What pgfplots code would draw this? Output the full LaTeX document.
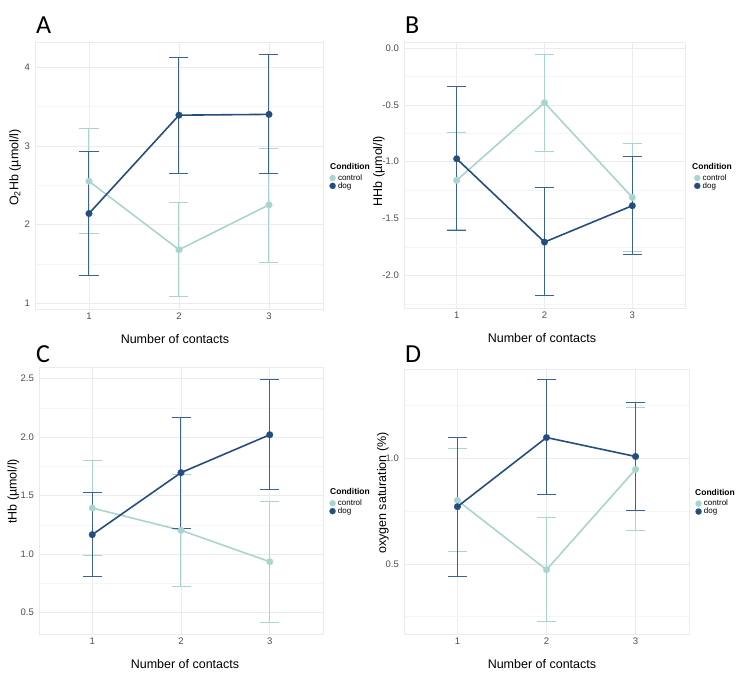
\documentclass[border=0pt]{standalone}
\usepackage{pgfplots}
\pgfplotsset{compat=1.18}
\usepackage{pgfplotstable}
\usepackage{fontspec}
\setmainfont{Liberation Sans}
\newfontfamily\letterfont{Carlito}
\definecolor{ctrl}{HTML}{A8D5CF}
\definecolor{dogc}{HTML}{244E7E}
\definecolor{dogbar}{HTML}{3A6292}
\definecolor{gridmaj}{HTML}{EBEBEB}
\definecolor{gridmin}{HTML}{F5F5F5}
\definecolor{ticklab}{HTML}{4D4D4D}

\pgfplotstableread{
x c clo chi d dlo dhi
1 2.55 1.88 3.22 2.14 1.35 2.93
2 1.68 1.08 2.285 3.39 2.65 4.12
3 2.25 1.52 2.97 3.40 2.65 4.16
}\dataA
\pgfplotstableread{
x c clo chi d dlo dhi
1 -1.164 -1.592 -0.739 -0.974 -1.607 -0.34
2 -0.481 -0.906 -0.053 -1.707 -2.18 -1.226
3 -1.314 -1.789 -0.842 -1.387 -1.815 -0.956
}\dataB
\pgfplotstableread{
x c clo chi d dlo dhi
1 1.395 0.987 1.802 1.167 0.808 1.526
2 1.204 0.725 1.68 1.697 1.218 2.167
3 0.936 0.42 1.449 2.021 1.554 2.49
}\dataC
\pgfplotstableread{
x c clo chi d dlo dhi
1 0.801 0.557 1.047 0.771 0.442 1.099
2 0.472 0.224 0.719 1.099 0.828 1.372
3 0.948 0.656 1.241 1.009 0.754 1.265
}\dataD

\pgfplotsset{
 panel/.style={
  scale only axis, xmin=0.4, xmax=3.6, xtick={1,2,3},
  axis line style={draw=gridmaj, line width=0.6pt},
  xmajorgrids, ymajorgrids, yminorgrids,
  major grid style={draw=gridmaj, line width=0.6pt},
  minor grid style={draw=gridmin, line width=0.5pt},
  major tick length=0pt, minor tick length=0pt,
  tick style={draw=none},
  ticklabel style={font=\fontsize{9.5}{9.5}\selectfont, text=ticklab},
  xticklabel style={inner sep=0pt, yshift=-4pt, anchor=north},
  yticklabel style={inner sep=0pt, xshift=-5pt, anchor=east},
  label style={font=\fontsize{12.5}{12.5}\selectfont},
  /pgf/number format/assume math mode=true,
  legend style={draw=none, fill=none, font=\fontsize{8}{8}\selectfont, anchor=west, row sep=0pt, column sep=2pt, inner sep=0pt, nodes={inner sep=0.3pt}},
  legend cell align=left,
  legend image code/.code={\draw[#1, only marks, mark size=3.1pt] plot coordinates {(0.11cm,0cm)};},
 },
 ebar/.style={draw=none, mark=none, forget plot, error bars/.cd, y dir=both, y explicit, error bar style={draw=#1, line width=1pt, solid}, error mark options={rotate=90, draw=#1, line width=1pt, mark size=9.5pt}},
 mline/.style={draw=#1, line width=1.6pt, mark=*, mark size=3.4pt, mark options={draw=#1, fill=#1, line width=0.1pt, solid}},
}

\begin{document}
\begin{tikzpicture}
\path (0pt,0pt) rectangle (748pt,-681pt);

% Panel A
\begin{axis}[panel, at={(35pt,-42pt)}, anchor=north west, width=288pt, height=267pt,
  ymin=0.926, ymax=4.32, ytick={1,2,3,4}, minor ytick={1.5,2.5,3.5},
  ylabel={O\textsubscript{2}Hb (µmol/l)}, xlabel={Number of contacts},
  ylabel style={at={(axis description cs:-0.069,0.53)}, anchor=center},
  xlabel style={at={(axis description cs:0.486,-0.112)}, anchor=center},
  legend style={at={(axis description cs:1.022,0.476)}}]
\addplot[ebar=ctrl] table[x=x, y=c, y error plus expr=\thisrow{chi}-\thisrow{c}, y error minus expr=\thisrow{c}-\thisrow{clo}]{\dataA};
\addplot[mline=ctrl] table[x=x, y=c]{\dataA};
\addlegendentry{control}
\addplot[ebar=dogbar] table[x=x, y=d, y error plus expr=\thisrow{dhi}-\thisrow{d}, y error minus expr=\thisrow{d}-\thisrow{dlo}]{\dataA};
\addplot[mline=dogc] table[x=x, y=d]{\dataA};
\addlegendentry{dog}
\end{axis}

% Panel B
\begin{axis}[panel, at={(404pt,-42pt)}, anchor=north west, width=281pt, height=266pt,
  ymin=-2.287, ymax=0.053, ytick={-2,-1.5,-1,-0.5,0}, yticklabels={-2.0,-1.5,-1.0,-0.5,0.0},
  minor ytick={-2.25,-1.75,-1.25,-0.75,-0.25},
  ylabel={HHb (µmol/l)}, xlabel={Number of contacts},
  ylabel style={at={(axis description cs:-0.089,0.515)}, anchor=center},
  xlabel style={at={(axis description cs:0.491,-0.113)}, anchor=center},
  legend style={at={(axis description cs:1.032,0.474)}}]
\addplot[ebar=ctrl] table[x=x, y=c, y error plus expr=\thisrow{chi}-\thisrow{c}, y error minus expr=\thisrow{c}-\thisrow{clo}]{\dataB};
\addplot[mline=ctrl] table[x=x, y=c]{\dataB};
\addlegendentry{control}
\addplot[ebar=dogbar] table[x=x, y=d, y error plus expr=\thisrow{dhi}-\thisrow{d}, y error minus expr=\thisrow{d}-\thisrow{dlo}]{\dataB};
\addplot[mline=dogc] table[x=x, y=d]{\dataB};
\addlegendentry{dog}
\end{axis}

% Panel C
\begin{axis}[panel, at={(39pt,-367pt)}, anchor=north west, width=284pt, height=267pt,
  ymin=0.318, ymax=2.60, ytick={0.5,1,1.5,2,2.5}, yticklabels={0.5,1.0,1.5,2.0,2.5},
  minor ytick={0.75,1.25,1.75,2.25},
  ylabel={tHb (µmol/l)}, xlabel={Number of contacts},
  ylabel style={at={(axis description cs:-0.09,0.534)}, anchor=center},
  xlabel style={at={(axis description cs:0.514,-0.112)}, anchor=center},
  legend style={at={(axis description cs:1.022,0.475)}}]
\addplot[ebar=ctrl] table[x=x, y=c, y error plus expr=\thisrow{chi}-\thisrow{c}, y error minus expr=\thisrow{c}-\thisrow{clo}]{\dataC};
\addplot[mline=ctrl] table[x=x, y=c]{\dataC};
\addlegendentry{control}
\addplot[ebar=dogbar] table[x=x, y=d, y error plus expr=\thisrow{dhi}-\thisrow{d}, y error minus expr=\thisrow{d}-\thisrow{dlo}]{\dataC};
\addplot[mline=dogc] table[x=x, y=d]{\dataC};
\addlegendentry{dog}
\end{axis}

% Panel D
\begin{axis}[panel, at={(404pt,-369pt)}, anchor=north west, width=285pt, height=265pt,
  ymin=0.167, ymax=1.424, ytick={0.5,1}, yticklabels={0.5,1.0},
  minor ytick={0.25,0.75,1.25},
  ylabel={oxygen saturation (\%)}, xlabel={Number of contacts},
  ylabel style={at={(axis description cs:-0.074,0.532)}, anchor=center},
  xlabel style={at={(axis description cs:0.484,-0.113)}, anchor=center},
  legend style={at={(axis description cs:1.022,0.477)}}]
\addplot[ebar=ctrl] table[x=x, y=c, y error plus expr=\thisrow{chi}-\thisrow{c}, y error minus expr=\thisrow{c}-\thisrow{clo}]{\dataD};
\addplot[mline=ctrl] table[x=x, y=c]{\dataD};
\addlegendentry{control}
\addplot[ebar=dogbar] table[x=x, y=d, y error plus expr=\thisrow{dhi}-\thisrow{d}, y error minus expr=\thisrow{d}-\thisrow{dlo}]{\dataD};
\addplot[mline=dogc] table[x=x, y=d]{\dataD};
\addlegendentry{dog}
\end{axis}

% legend titles
\node[anchor=west, inner sep=0pt, font=\bfseries\fontsize{8.5}{8.5}\selectfont] at (330pt,-166pt) {Condition};
\node[anchor=west, inner sep=0pt, font=\bfseries\fontsize{8.5}{8.5}\selectfont] at (692pt,-166pt) {Condition};
\node[anchor=west, inner sep=0pt, font=\bfseries\fontsize{8.5}{8.5}\selectfont] at (330pt,-491pt) {Condition};
\node[anchor=west, inner sep=0pt, font=\bfseries\fontsize{8.5}{8.5}\selectfont] at (695pt,-492pt) {Condition};

% panel letters
\node[anchor=base west, inner sep=0pt, font=\letterfont\fontsize{26}{26}\selectfont] at (36pt,-33pt) {A};
\node[anchor=base west, inner sep=0pt, font=\letterfont\fontsize{26}{26}\selectfont] at (405pt,-33pt) {B};
\node[anchor=base west, inner sep=0pt, font=\letterfont\fontsize{26}{26}\selectfont] at (36pt,-362pt) {C};
\node[anchor=base west, inner sep=0pt, font=\letterfont\fontsize{26}{26}\selectfont] at (405pt,-362pt) {D};
\end{tikzpicture}
\end{document}
